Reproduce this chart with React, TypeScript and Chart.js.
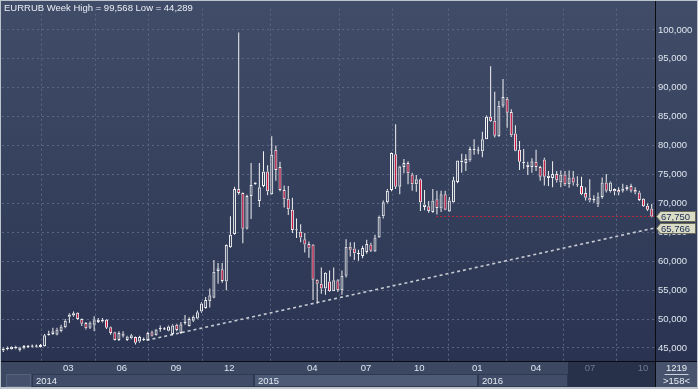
import React, { useEffect, useRef } from 'react';
import { Chart, registerables } from 'chart.js';
Chart.register(...registerables);

// Weekly EURRUB candles (index 0 = mid-Nov 2013 ... index 157 = Oct 2016)
const opens: number[] = [
  44.55, 44.8, 44.8, 44.9, 44.6, 44.9, 45.25, 45.3, 45.35, 45.15,
  45.3, 47.2, 47.4, 47.3, 47.9, 48.6, 50.4, 50.6, 51.1, 50.0,
  49.3, 48.5, 49.0, 49.5, 49.6, 49.9, 48.6, 47.7, 46.4, 47.5,
  46.4, 46.7, 46.9, 46.1, 46.45, 46.4, 47.7, 47.2, 48.3, 48.3,
  48.0, 47.4, 49.0, 47.6, 49.3, 48.8, 49.7, 50.1, 51.3, 51.9,
  53.1, 53.7, 58.3, 58.6, 56.5, 62.4, 64.7, 72.5, 71.8, 65.6,
  71.3, 73.3, 70.4, 73.0, 75.5, 71.6, 79.3, 76.3, 72.3, 70.8,
  68.9, 65.5, 65.1, 63.8, 63.0, 62.9, 56.8, 56.1, 55.3, 56.5,
  54.8, 56.7, 55.0, 57.5, 62.5, 62.2, 61.4, 60.9, 61.6, 62.9,
  61.7, 64.1, 67.8, 70.2, 72.3, 78.5, 72.9, 76.3, 77.0, 75.0,
  73.3, 74.2, 69.4, 69.5, 68.5, 70.7, 69.1, 71.6, 68.6, 70.2,
  73.7, 77.1, 77.0, 77.4, 79.2, 79.2, 79.0, 81.1, 85.0, 84.3,
  81.6, 86.9, 88.1, 85.8, 82.1, 79.3, 77.2, 76.3, 76.3, 77.2,
  76.3, 77.6, 74.4, 74.4, 75.1, 73.6, 75.0, 73.3, 74.5, 73.2,
  73.0, 71.8, 71.0, 70.6, 69.8, 71.1, 73.6, 72.1, 72.5, 72.3,
  72.2, 72.5, 73.0, 72.3, 71.9, 70.8, 69.6, 69.1,
];
const highs: number[] = [
  45.1, 45.25, 45.3, 45.4, 45.2, 45.5, 45.5, 45.6, 45.6, 45.7,
  47.4, 48.0, 48.5, 48.5, 49.0, 50.0, 51.0, 51.3, 51.2, 50.1,
  49.5, 49.6, 50.5, 50.2, 50.2, 50.0, 48.7, 47.8, 47.9, 47.9,
  47.1, 47.4, 47.0, 47.1, 46.8, 47.8, 48.0, 48.3, 48.9, 48.6,
  48.9, 49.1, 49.2, 49.5, 50.7, 50.3, 50.6, 51.5, 52.9, 53.8,
  55.3, 60.2, 59.7, 59.7, 62.9, 67.8, 72.9, 99.568, 71.9, 71.5,
  77.0, 73.7, 77.0, 79.0, 76.6, 81.6, 80.0, 77.2, 73.1, 73.0,
  71.0, 67.4, 66.4, 64.9, 63.4, 63.0, 56.9, 58.9, 58.1, 58.4,
  58.9, 56.9, 58.4, 63.8, 63.3, 63.3, 62.0, 62.7, 63.7, 63.2,
  64.6, 67.9, 70.5, 72.5, 78.8, 83.7, 76.5, 77.7, 77.3, 75.3,
  74.9, 74.3, 72.3, 70.4, 72.5, 72.2, 72.2, 72.2, 71.1, 74.6,
  77.4, 78.6, 78.5, 79.8, 81.1, 79.8, 82.4, 85.2, 93.7, 89.3,
  87.7, 91.5, 88.4, 86.3, 83.5, 80.8, 79.4, 77.2, 77.8, 79.3,
  76.5, 77.9, 75.6, 77.3, 75.6, 75.7, 75.6, 75.7, 75.6, 74.7,
  74.6, 72.8, 74.2, 71.4, 71.9, 74.5, 75.1, 73.8, 72.6, 72.8,
  73.4, 73.2, 73.4, 72.8, 72.2, 70.9, 70.0, 69.9,
];
const lows: number[] = [
  44.289, 44.6, 44.7, 44.8, 44.4, 44.8, 45.0, 45.1, 45.1, 45.1,
  45.2, 47.1, 47.3, 47.2, 47.7, 48.4, 49.3, 50.4, 49.9, 48.8,
  48.2, 48.3, 47.9, 49.3, 49.4, 48.3, 47.3, 46.3, 46.2, 46.8,
  46.2, 46.5, 45.6, 45.9, 46.2, 46.3, 47.0, 47.1, 47.8, 48.1,
  47.9, 47.2, 47.9, 47.4, 49.0, 48.7, 49.5, 50.0, 51.1, 51.8,
  52.0, 53.6, 56.1, 56.3, 55.0, 62.3, 64.6, 71.5, 63.1, 65.5,
  67.3, 73.2, 69.4, 72.8, 71.4, 71.5, 73.9, 72.1, 69.3, 68.0,
  64.9, 64.0, 63.3, 61.5, 60.6, 53.3, 52.7, 54.4, 54.2, 54.7,
  54.8, 54.7, 54.2, 57.2, 60.8, 60.2, 60.1, 60.5, 61.3, 61.6,
  61.6, 64.0, 67.4, 70.0, 72.1, 72.5, 71.6, 75.2, 73.3, 72.2,
  72.0, 68.7, 68.8, 68.4, 68.4, 68.1, 68.5, 68.8, 68.5, 70.1,
  73.5, 75.3, 75.6, 77.2, 78.4, 78.5, 78.0, 81.1, 84.1, 81.4,
  81.5, 86.6, 83.1, 81.5, 79.0, 75.8, 76.0, 74.9, 75.3, 75.6,
  73.9, 73.1, 73.0, 72.8, 73.6, 72.8, 73.0, 72.7, 73.1, 72.9,
  71.4, 70.5, 70.2, 70.1, 69.4, 70.8, 71.9, 71.9, 71.4, 71.4,
  71.9, 72.2, 71.9, 71.6, 70.4, 69.4, 68.7, 67.6,
];
const closes: number[] = [
  44.9, 45.05, 45.2, 45.2, 45.1, 45.35, 45.3, 45.35, 45.3, 45.5,
  47.2, 47.5, 47.9, 48.2, 48.7, 49.7, 50.8, 51.0, 50.0, 49.2,
  48.4, 49.4, 49.8, 49.9, 49.9, 48.5, 47.6, 46.4, 47.6, 47.1,
  47.0, 47.2, 45.9, 46.9, 46.5, 47.6, 47.1, 48.2, 48.4, 48.3,
  48.7, 48.9, 48.1, 49.1, 49.5, 50.0, 50.4, 51.2, 52.7, 53.3,
  54.1, 58.2, 58.8, 56.6, 62.8, 64.6, 72.5, 71.8, 65.6, 71.3,
  73.2, 73.6, 72.8, 75.5, 72.1, 78.4, 75.8, 72.3, 70.7, 69.0,
  65.4, 65.4, 64.1, 62.9, 62.2, 56.8, 56.1, 55.3, 58.0, 54.8,
  56.7, 55.0, 57.5, 62.5, 62.0, 61.4, 61.3, 62.3, 63.0, 61.8,
  64.1, 67.7, 70.2, 72.2, 78.7, 72.9, 76.4, 77.0, 75.2, 73.3,
  74.2, 70.2, 69.8, 68.7, 70.5, 69.2, 71.6, 68.9, 70.5, 74.0,
  77.4, 77.4, 77.7, 79.4, 79.4, 79.25, 81.1, 85.0, 84.2, 81.7,
  86.9, 88.4, 85.7, 81.8, 79.1, 77.2, 77.0, 76.7, 77.3, 76.3,
  74.6, 74.6, 74.8, 75.1, 74.0, 75.0, 73.3, 74.5, 73.6, 73.25,
  71.6, 71.0, 70.5, 70.7, 71.2, 73.6, 72.2, 73.6, 72.1, 71.9,
  72.6, 72.9, 72.2, 71.9, 70.6, 69.5, 68.9, 67.75,
];

// Support trend line (bar index, price)
const trendIdx: number[] = [34.7, 157.8];
const trendVals: number[] = [46.33, 65.766];
// Last-price level line
const levelIdx: number[] = [104.8, 157.8];

// Axis labels
const yTicks: number[] = [45, 50, 55, 60, 65, 70, 75, 80, 85, 90, 95, 100];
const monthTickIdx: number[] = [15.74, 28.67, 41.82, 54.72, 74.82, 87.82, 100.73, 114.77, 129.0, 142.05, 154.9];
const monthLabels: string[] = ['03', '06', '09', '12', '04', '07', '10', '01', '04', '07', '10'];
const yearStartIdx: number[] = [6.95, 60.7, 114.9];
const yearLabels: string[] = ['2014', '2015', '2016'];
const shadeStartIdx = 136.7;
const titleText = 'EURRUB Week High = 99,568 Low = 44,289';
const barCountText = '1219';
const visibleText = '>158<';

const fmt = (v: number) => v.toFixed(3).replace('.', ',');
const FONT = '"Liberation Sans", Arial, sans-serif';

export default function App() {
  const ref = useRef<HTMLCanvasElement | null>(null);
  useEffect(() => {
    if (!ref.current) return;
    const minBody = 0.2;
    const bodies = opens.map((o, i) => {
      const c = closes[i];
      let lo = Math.min(o, c), hi = Math.max(o, c);
      if (hi - lo < minBody) { const m = (hi + lo) / 2; lo = m - minBody / 2; hi = m + minBody / 2; }
      return { x: i, y: [lo, hi] };
    });
    const upper = opens.map((o, i) => ({ x: i, y: [Math.max(o, closes[i]), highs[i]] }));
    const lower = opens.map((o, i) => ({ x: i, y: [lows[i], Math.min(o, closes[i])] }));
    const bodyColors = opens.map((o, i) => (closes[i] < o ? '#e3123e' : 'rgba(0,0,0,0)'));

    const decor = {
      id: 'decor',
      beforeDraw(chart: any) {
        const { ctx, width, chartArea } = chart;
        const g = ctx.createLinearGradient(0, 0, 0, chartArea.bottom);
        g.addColorStop(0, '#414d68');
        g.addColorStop(1, '#2a3452');
        ctx.save();
        ctx.fillStyle = g;
        ctx.fillRect(0, 0, width, chartArea.bottom);
        ctx.restore();
      },
      afterDraw(chart: any) {
        const { ctx, width, height, chartArea } = chart;
        const xs = chart.scales.x;
        const ys = chart.scales.y;
        const bandTop = chartArea.bottom;
        const rowMid = bandTop + 13;
        const right = chartArea.right;
        ctx.save();
        // bottom band
        ctx.fillStyle = '#3c4862';
        ctx.fillRect(0, bandTop, width, height - bandTop);
        const starts = yearStartIdx.map((v) => Math.round(xs.getPixelForValue(v)));
        const shadeX = Math.round(xs.getPixelForValue(shadeStartIdx));
        const yearColors = ['#414d68', '#4e5b77', '#414d68'];
        for (let k = 0; k < starts.length; k++) {
          const x0 = starts[k];
          const x1 = k + 1 < starts.length ? starts[k + 1] : shadeX;
          ctx.fillStyle = yearColors[k % yearColors.length];
          ctx.fillRect(x0, rowMid, x1 - x0, height - 2 - rowMid);
          ctx.strokeStyle = '#2e3850';
          ctx.lineWidth = 1;
          ctx.strokeRect(x0 + 0.5, rowMid + 0.5, x1 - x0 - 1, height - 3 - rowMid);
        }
        // left small cell
        ctx.fillStyle = '#45516c';
        ctx.fillRect(6, rowMid, starts[0] - 7, height - 2 - rowMid);
        ctx.strokeStyle = '#56627c';
        ctx.strokeRect(6.5, rowMid + 0.5, starts[0] - 8, height - 3 - rowMid);
        // shaded future region
        ctx.fillStyle = '#27314a';
        ctx.fillRect(shadeX, bandTop, right - shadeX, height - 2 - bandTop);
        // month labels
        ctx.font = '9.5px ' + FONT;
        ctx.textAlign = 'center';
        ctx.textBaseline = 'middle';
        monthTickIdx.forEach((v, k) => {
          const x = xs.getPixelForValue(v);
          ctx.fillStyle = x > shadeX ? '#6d7892' : '#dbe6f2';
          ctx.fillText(monthLabels[k], x, bandTop + 7);
        });
        ctx.textAlign = 'left';
        ctx.fillStyle = '#e4ebf3';
        yearLabels.forEach((t, k) => ctx.fillText(t, starts[k] + 4, rowMid + 7));
        // right-bottom box
        ctx.fillStyle = '#47536d';
        ctx.fillRect(right, bandTop, width - right, height - 2 - bandTop);
        ctx.fillStyle = '#e8eef5';
        ctx.textAlign = 'center';
        const cx = right + (width - right) / 2;
        ctx.fillText(barCountText, cx, bandTop + 7);
        ctx.fillText(visibleText, cx, bandTop + 20);
        ctx.strokeStyle = '#c8d0dc';
        ctx.beginPath();
        ctx.moveTo(cx - 12, bandTop + 13.5);
        ctx.lineTo(cx + 12, bandTop + 13.5);
        ctx.stroke();
        // black frame lines
        ctx.strokeStyle = '#0a0c12';
        ctx.lineWidth = 1;
        ctx.beginPath();
        ctx.moveTo(0, bandTop + 0.5);
        ctx.lineTo(width, bandTop + 0.5);
        ctx.moveTo(right + 0.5, 0);
        ctx.lineTo(right + 0.5, height - 2);
        ctx.stroke();
        // title
        ctx.font = '9.5px ' + FONT;
        ctx.textAlign = 'left';
        ctx.textBaseline = 'middle';
        ctx.fillStyle = '#e8eef6';
        ctx.fillText(titleText, 4, 8);
        // price tags
        const tag = (v: number) => {
          const y = Math.round(ys.getPixelForValue(v)) + 0.5;
          ctx.beginPath();
          ctx.moveTo(right + 1.5, y);
          ctx.lineTo(right + 5.5, y - 5);
          ctx.lineTo(width - 2.5, y - 5);
          ctx.lineTo(width - 2.5, y + 5);
          ctx.lineTo(right + 5.5, y + 5);
          ctx.closePath();
          ctx.fillStyle = '#dadcc5';
          ctx.fill();
          ctx.strokeStyle = '#6a6a5a';
          ctx.stroke();
          ctx.fillStyle = '#1b2a55';
          ctx.textAlign = 'left';
          ctx.font = '9.5px ' + FONT;
          ctx.fillText(fmt(v), right + 6, y + 0.5);
        };
        tag(closes[closes.length - 1]);
        tag(trendVals[trendVals.length - 1]);
        // outer light border
        ctx.strokeStyle = '#bcc4ce';
        ctx.strokeRect(0.5, 0.5, width - 1, height - 1);
        ctx.fillStyle = '#bcc4ce';
        ctx.fillRect(0, height - 2, width, 2);
        ctx.restore();
      },
    };

    const lastClose = closes[closes.length - 1];
    const chart = new Chart(ref.current, {
      type: 'bar',
      data: {
        datasets: [
          { type: 'line', data: trendIdx.map((x, k) => ({ x, y: trendVals[k] })), borderColor: '#c6cad2', borderWidth: 1.6, borderDash: [3, 3], pointRadius: 0, order: 5 } as any,
          { type: 'line', data: levelIdx.map((x) => ({ x, y: lastClose })), borderColor: '#c2283c', borderWidth: 1, borderDash: [2, 2], pointRadius: 0, order: 4 } as any,
          { data: upper, backgroundColor: '#f2f2f2', barThickness: 1, grouped: false, inflateAmount: 0, order: 3 } as any,
          { data: lower, backgroundColor: '#f2f2f2', barThickness: 1, grouped: false, inflateAmount: 0, order: 2 } as any,
          { data: bodies, backgroundColor: bodyColors, borderColor: '#f4f4f4', borderWidth: 1, borderSkipped: false, barThickness: 3, grouped: false, inflateAmount: 0, order: 1 } as any,
        ],
      },
      options: {
        responsive: false,
        animation: false,
        events: [],
        layout: { padding: { left: 2, top: 1, right: 0, bottom: 28 } },
        plugins: { legend: { display: false }, tooltip: { enabled: false }, title: { display: false } },
        scales: {
          x: {
            type: 'linear',
            min: -0.315,
            max: 157.8,
            offset: false,
            afterBuildTicks: (s: any) => { s.ticks = monthTickIdx.map((v) => ({ value: v })); },
            afterFit: (s: any) => { s.height = 0; },
            ticks: { display: false },
            grid: { color: '#5a6682', lineWidth: 1, drawTicks: false },
            border: { display: false, dash: [2, 3] },
          },
          y: {
            type: 'linear',
            position: 'right',
            min: 42.749,
            max: 103.672,
            afterBuildTicks: (s: any) => { s.ticks = yTicks.map((v) => ({ value: v })); },
            afterFit: (s: any) => { s.width = 43; },
            ticks: { color: '#dfe6ef', font: { family: FONT, size: 9.5 }, padding: 3, callback: (v: any) => fmt(Number(v)) },
            grid: { color: '#5a6682', lineWidth: 1, drawTicks: false },
            border: { display: false, dash: [2, 3] },
          },
        },
      } as any,
      plugins: [decor],
    });
    return () => chart.destroy();
  }, []);
  return (
    <div style={{ position: 'fixed', left: 0, top: 0, width: 698, height: 389 }}>
      <canvas ref={ref} width={698} height={389} style={{ display: 'block' }} />
    </div>
  );
}
